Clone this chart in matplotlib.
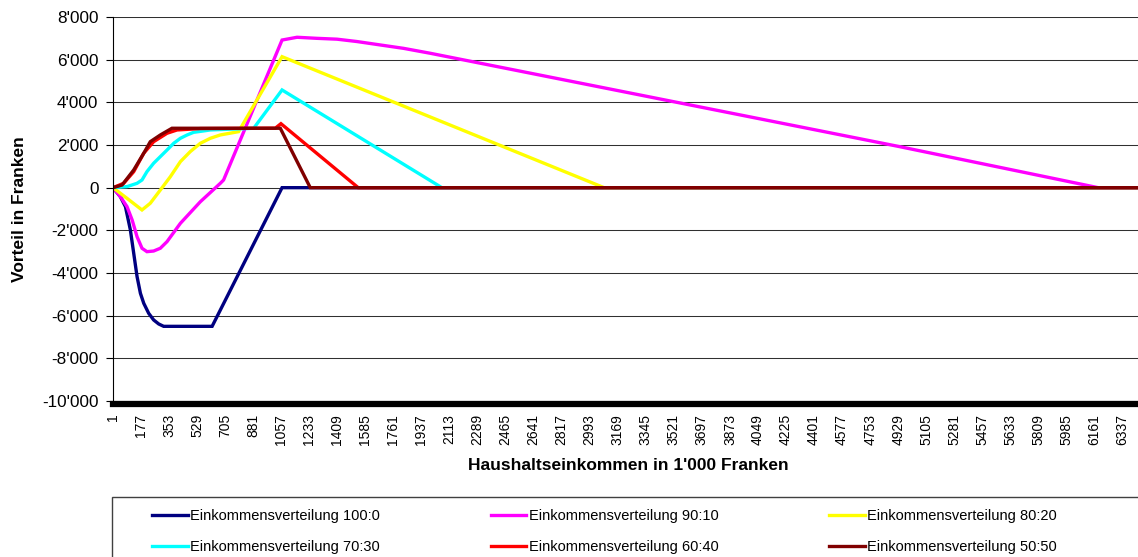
import numpy as np
import matplotlib
matplotlib.use('Agg')
import matplotlib.pyplot as plt
from matplotlib.patches import Rectangle

plt.rcParams['font.family'] = ['Liberation Sans', 'DejaVu Sans']

#%% Daten: Knickpunkte der Kurven (x = Kategorie Haushaltseinkommen, y = Vorteil in Franken)
x_100_0 = [1, 47, 79, 110, 131, 152, 173, 194, 225, 256, 288, 319, 623, 1062, 6434]
y_100_0 = [0, -420, -890, -1980, -3075, -4170, -4950, -5420, -5890, -6200, -6390, -6500, -6500, 0, 0]

x_90_10 = [1, 47, 89, 121, 152, 183, 214, 256, 298, 340, 424, 549, 674, 695, 1062, 1156, 1281,
           1407, 1532, 1678, 1825, 1992, 4940, 6184, 6434]
y_90_10 = [0, -420, -890, -1510, -2300, -2840, -3000, -2970, -2840, -2530, -1670, -660, 200, 360,
           6920, 7050, 7000, 6960, 6850, 6690, 6530, 6300, 1920, 0, 0]

x_80_20 = [1, 89, 183, 235, 298, 361, 424, 486, 549, 612, 674, 789, 1062, 3083, 6434]
y_80_20 = [0, -500, -1045, -730, -110, 515, 1220, 1690, 2080, 2315, 2470, 2625, 6140, 0, 0]

x_70_30 = [1, 89, 152, 183, 214, 256, 298, 340, 382, 424, 466, 507, 570, 612, 884, 1062, 2065, 6434]
y_70_30 = [0, 50, 205, 360, 750, 1145, 1455, 1765, 2080, 2315, 2470, 2595, 2660, 2705, 2785,
           4580, 0, 0]

x_60_40 = [1, 68, 131, 194, 256, 340, 403, 550, 1020, 1055, 1540, 6434]
y_60_40 = [0, 205, 750, 1615, 2155, 2550, 2705, 2770, 2790, 3000, 0, 0]

x_50_50 = [1, 58, 131, 194, 235, 298, 371, 1051, 1239, 6434]
y_50_50 = [0, 125, 830, 1615, 2155, 2470, 2785, 2785, 0, 0]

series_x = [x_100_0, x_90_10, x_80_20, x_70_30, x_60_40, x_50_50]
series_y = [y_100_0, y_90_10, y_80_20, y_70_30, y_60_40, y_50_50]
labels = ['Einkommensverteilung 100:0', 'Einkommensverteilung 90:10',
          'Einkommensverteilung 80:20', 'Einkommensverteilung 70:30',
          'Einkommensverteilung 60:40', 'Einkommensverteilung 50:50']
colors = ['#000080', '#FF00FF', '#FFFF00', '#00FFFF', '#FF0000', '#800000']

xtick_vals = [1, 177, 353, 529, 705, 881, 1057, 1233, 1409, 1585, 1761, 1937, 2113, 2289,
              2465, 2641, 2817, 2993, 3169, 3345, 3521, 3697, 3873, 4049, 4225, 4401, 4577,
              4753, 4929, 5105, 5281, 5457, 5633, 5809, 5985, 6161, 6337]
ytick_vals = [-10000, -8000, -6000, -4000, -2000, 0, 2000, 4000, 6000, 8000]
ytick_labels = ["-10'000", "-8'000", "-6'000", "-4'000", "-2'000", "0",
                "2'000", "4'000", "6'000", "8'000"]

#%% Plot
W, H = 1138, 557
fig = plt.figure(figsize=(W / 100, H / 100), dpi=100)
ax = fig.add_axes([113 / W, 1 - 401 / H, 1 - 113 / W, (401 - 17) / H])

lines = []
for xs, ys, c, lab in zip(series_x, series_y, colors, labels):
    l, = ax.plot(xs, ys, color=c, lw=2.4, label=lab, solid_joinstyle='miter')
    lines.append(l)

ax.set_xlim(1, 6434)
ax.set_ylim(-10000, 8000)

ax.set_yticks(ytick_vals)
ax.set_yticklabels(ytick_labels, fontsize=12.3)
ax.set_xticks(xtick_vals)
ax.set_xticklabels([str(v) for v in xtick_vals], fontsize=10)

ax.tick_params(axis='y', length=5, width=0.8, direction='out', pad=5.5)
ax.tick_params(axis='x', length=0, pad=7, labelrotation=90)

ax.grid(axis='y', color='#303030', lw=0.75)
ax.set_axisbelow(True)

ax.spines['top'].set_visible(False)
ax.spines['right'].set_visible(False)
ax.spines['left'].set_linewidth(0.8)
ax.spines['bottom'].set_linewidth(4.5)
ax.spines['bottom'].set_position(('outward', 2.2))

ax.set_ylabel('Vorteil in Franken', fontsize=12.5, fontweight='bold')
ax.yaxis.set_label_coords(-(113 - 19.5) / 1025, 0.5)
ax.yaxis.label.set_va('center')
ax.set_xlabel("Haushaltseinkommen in 1'000 Franken", fontsize=12.5, fontweight='bold')
ax.xaxis.set_label_coords(0.503, -(466 - 401) / 384)
ax.xaxis.label.set_va('center')

# Legende mit Rahmen, der über den Bildrand hinausgeht
fig.add_artist(Rectangle((112 / W, -0.05), 1.0, (557 - 497) / H + 0.05,
                         transform=fig.transFigure, fill=False, edgecolor='#404040', lw=1))
order = [0, 3, 1, 4, 2, 5]
fig.legend([lines[i] for i in order], [labels[i] for i in order], ncol=3,
           loc='upper left', bbox_to_anchor=(152 / W, 1 - 509 / H),
           frameon=False, fontsize=10.5, handlelength=2.45, handletextpad=0.15,
           columnspacing=7.6, labelspacing=1.2, borderpad=0, borderaxespad=0)

fig.savefig('out.png', dpi=100)
